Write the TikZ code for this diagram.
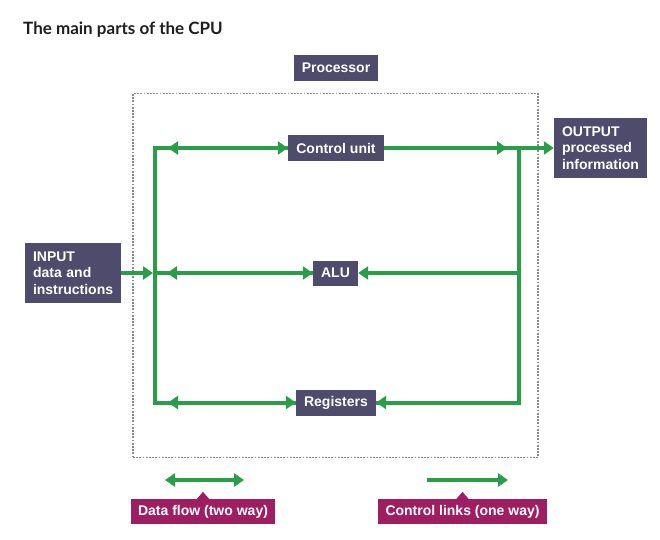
\documentclass[tikz,border=0pt]{standalone}
\usepackage{fontspec}
\setmainfont{Liberation Sans}
\newfontfamily\titlefont{Lato}
\usetikzlibrary{arrows.meta}
\definecolor{boxc}{HTML}{4E4B6C}
\definecolor{magc}{HTML}{9F1D61}
\definecolor{grn}{HTML}{2A9D48}
\definecolor{dotc}{HTML}{8A8A8A}
\definecolor{ttl}{HTML}{1E1E1E}
\begin{document}
\begin{tikzpicture}[x=1pt,y=-1pt,
  cbox/.style={fill=boxc,text=white,font=\bfseries\fontsize{14}{16.5}\selectfont,inner sep=0pt},
  mbox/.style={fill=magc,text=white,font=\bfseries\fontsize{14}{16.5}\selectfont,inner sep=0pt,minimum height=25pt},
  flow/.style={draw=grn,line width=4pt},
  tip/.style={-{Triangle[length=10pt,width=13pt]}},
  tips/.style={{Triangle[length=10pt,width=13pt]}-{Triangle[length=10pt,width=13pt]}}]
\useasboundingbox (0,0) rectangle (660,539);
\node[anchor=base west,inner sep=0pt,text=ttl,font=\titlefont\bfseries\fontsize{17}{20}\selectfont] (title) at (23,34) {The main parts of the CPU};
\node[draw=dotc,dash pattern=on 1.8pt off 1.4pt,line width=1.8pt,minimum width=405pt,minimum height=364pt,inner sep=0pt] (cpu) at (335.5,275.5) {};
\node[cbox,minimum width=84pt,minimum height=26pt] (proc) at (336,68) {Processor};
\node[cbox,minimum width=96pt,minimum height=26pt] (cu) at (336,148) {Control unit};
\node[cbox,minimum width=45pt,minimum height=25pt] (alu) at (335.5,273) {ALU};
\node[cbox,minimum width=80pt,minimum height=26pt] (reg) at (336,402.5) {Registers};
\node[cbox,minimum width=96pt,minimum height=60pt,text width=80pt,align=left] (in) at (73,273) {INPUT\\data and\\instructions};
\node[cbox,minimum width=93pt,minimum height=60pt,text width=77pt,align=left] (out) at (600.5,148) {OUTPUT\\processed\\information};
\coordinate (lt) at (155,148);
\coordinate (lm) at (155,273);
\coordinate (lb) at (155,402.5);
\coordinate (rt) at (519,148);
\coordinate (rm) at (519,273);
\coordinate (rb) at (519,402.5);
% base lines
\draw[flow] (cu.west) -- (lt) -- (lb) -- (reg.west);
\draw[flow] (cu.east) -- (rt) -- (rb) -- (reg.east);
% control unit
\draw[flow,tip] (lt) -- (cu.west);
\draw[flow,tip] (cu.west) -- ([xshift=13pt]lt);
\draw[flow,tip] (cu.east) -- ([xshift=-12pt]rt);
\draw[flow,tip] (rt) -- (out.west);
% ALU
\draw[flow,tip] (in.east) -- ([xshift=-2pt]lm);
\draw[flow,tip] (lm) -- (alu.west);
\draw[flow,tip] (alu.west) -- ([xshift=12pt]lm);
\draw[flow,tip] (rm) -- (alu.east);
% registers
\draw[flow,tip] (lb) -- (reg.west);
\draw[flow,tip] (reg.west) -- ([xshift=13pt]lb);
\draw[flow,tip] (rb) -- (reg.east);
% legend
\coordinate (d1) at (165,480);
\coordinate (d2) at (244,480);
\coordinate (c1) at (427,480);
\coordinate (c2) at (508,480);
\draw[flow,tips] (d1) -- (d2);
\draw[flow,tip] (c1) -- (c2);
\node[mbox,minimum width=144pt] (dfl) at (203,511.5) {Data flow (two way)};
\node[mbox,minimum width=169pt] (cll) at (462.5,511.5) {Control links (one way)};
\fill[magc] ([xshift=-6pt]dfl.north) -- ++(6,-7) -- ++(6,7) -- cycle;
\fill[magc] ([xshift=-6pt]cll.north) -- ++(6,-7) -- ++(6,7) -- cycle;
\end{tikzpicture}
\end{document}
